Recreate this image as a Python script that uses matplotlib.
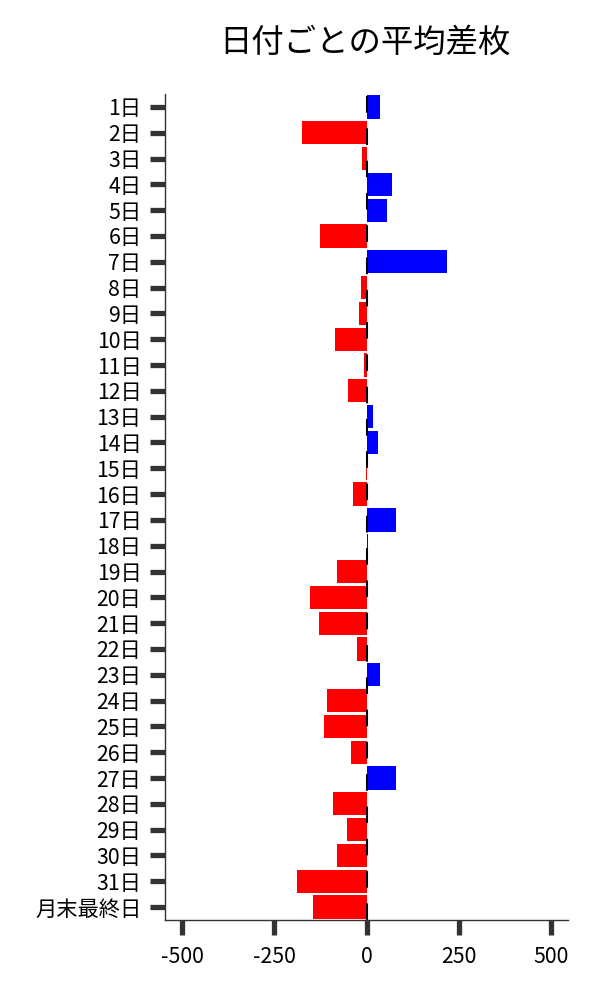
import matplotlib

matplotlib.use("Agg")
import matplotlib.pyplot as plt

plt.rcParams["font.family"] = ["Noto Sans CJK JP", "DejaVu Sans"]

# 日付ごとの平均差枚
DAYS = [f"{d}日" for d in range(1, 32)] + ["月末最終日"]
AVG_DIFF = [36, -176, -13, 70, 54, -127, 217, -15, -21, -86,
            -7, -51, 16, 30, -2, -37, 79, 4, -80, -154,
            -129, -26, 35, -108, -116, -43, 79, -91, -54, -80,
            -189, -146]
XTICKS = [-500, -250, 0, 250, 500]

POS_COLOR, NEG_COLOR = "#0000FF", "#FF0000"

fig = plt.figure(figsize=(6, 10), dpi=100)
ax = fig.add_axes([0.275, 0.08, 0.672, 0.826])

colors = [POS_COLOR if v >= 0 else NEG_COLOR for v in AVG_DIFF]
ax.barh(range(len(DAYS)), AVG_DIFF, height=0.9, color=colors, zorder=2)
ax.axvline(0, color="black", lw=1.5, ls=(0, (8, 7.5)), zorder=3)

ax.set_ylim(len(DAYS) - 0.5, -0.5)
ax.set_xlim(-546, 546)
ax.set_yticks(range(len(DAYS)))
ax.set_yticklabels(DAYS)
ax.set_xticks(XTICKS)
ax.set_xticklabels([str(t) for t in XTICKS])

for side in ("top", "right"):
    ax.spines[side].set_visible(False)
for side in ("left", "bottom"):
    ax.spines[side].set_color("#333333")
    ax.spines[side].set_linewidth(1.0)
ax.tick_params(axis="both", direction="out", length=11, width=3.8,
               color="#333333", labelsize=15.3, labelcolor="black")
ax.tick_params(axis="y", pad=6)
ax.tick_params(axis="x", pad=8)

fig.text(0.608, 0.957, "日付ごとの平均差枚", ha="center", va="center",
         fontsize=23.3)

fig.savefig("out.png", dpi=100)
plt.close(fig)
